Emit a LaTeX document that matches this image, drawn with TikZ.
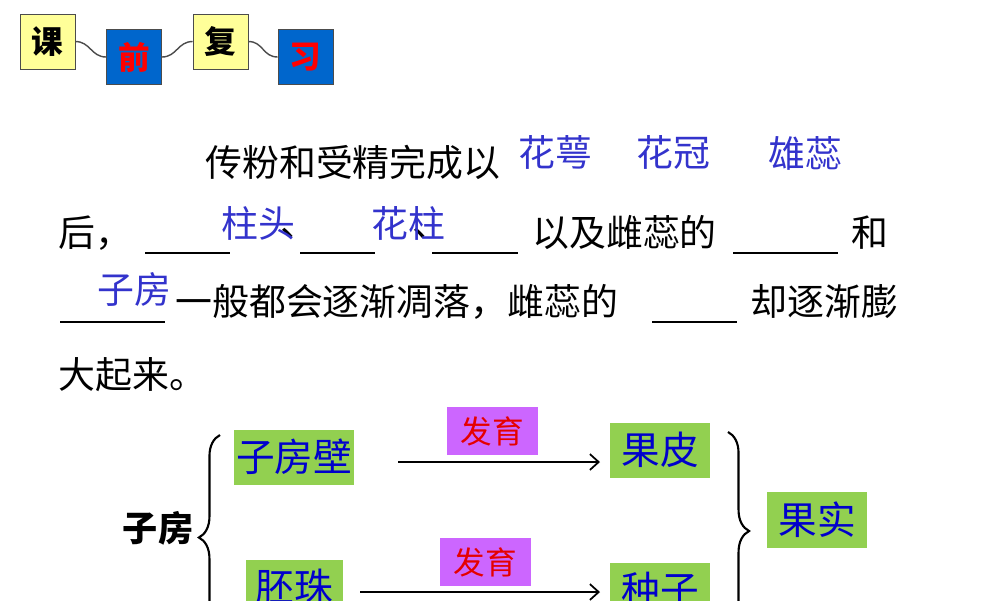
\documentclass[tikz,border=0pt]{standalone}
\usepackage{fontspec}
\setmainfont{Noto Sans CJK SC}
\usetikzlibrary{decorations.pathreplacing,arrows.meta}
\definecolor{gbox}{HTML}{92D050}
\definecolor{mbox}{HTML}{CC66FF}
\definecolor{ybox}{HTML}{FFFF99}
\definecolor{bbox}{HTML}{0066CC}
\definecolor{ans}{HTML}{3333CC}
\begin{document}
\begin{tikzpicture}[x=0.02cm,y=-0.02cm,
 body/.style={anchor=west,inner sep=0,font=\fontsize{21pt}{21pt}\selectfont},
 answer/.style={anchor=west,inner sep=0,text=ans,font=\fontsize{21pt}{21pt}\selectfont},
 blank/.style={line width=0.7pt},
 tile/.style={draw=black!70,minimum width=1.1cm,minimum height=1.1cm,inner sep=0,font=\bfseries\fontsize{18pt}{18pt}\selectfont},
 gbx/.style={fill=gbox,text=blue!80!black,inner sep=0,font=\fontsize{22pt}{22pt}\selectfont},
 mbx/.style={fill=mbox,text=red!90!black,inner sep=0,minimum width=1.82cm,minimum height=0.96cm,font=\fontsize{18pt}{18pt}\selectfont},
 arr/.style={line width=1pt,-{Straight Barb[length=5pt,width=9pt]}}]
\useasboundingbox (0,0) rectangle (1000,600);
\clip (0,0) rectangle (1000,600);
% title tiles
\node[tile,fill=ybox] (t1) at (47.5,41.5) {课};
\node[tile,fill=bbox,text=red] (t2) at (134,57) {前};
\node[tile,fill=ybox] (t3) at (220.5,41.5) {复};
\node[tile,fill=bbox,text=red] (t4) at (305.5,57) {习};
\draw[thick,black!70] (t1.east) .. controls +(15,0) and +(-15,0) .. (t2.west);
\draw[thick,black!70] (t2.east) .. controls +(15,0) and +(-15,0) .. (t3.west);
\draw[thick,black!70] (t3.east) .. controls +(15,0) and +(-15,0) .. (t4.west);
% text lines
\node[body] (l1) at (205,162) {传粉和受精完成以};
\node[answer] (a1) at (518,152) {花萼};
\node[answer] (a2) at (636,152) {花冠};
\node[answer] (a3) at (768,153) {雄蕊};
\node[body] (l2a) at (58,233) {后，};
\draw[blank] (145,253) -- (230,253);
\node[body] (l2b) at (280,233) {、};
\draw[blank] (300,253) -- (375,253);
\node[body] (l2c) at (412,233) {、};
\draw[blank] (432,253) -- (518,253);
\node[answer] (a4) at (221,223) {柱头};
\node[answer] (a5) at (371,223) {花柱};
\node[body] (l2d) at (532,233) {以及雌蕊的};
\draw[blank] (733,253) -- (838,253);
\node[body] (l2e) at (851,233) {和};
\draw[blank] (60,322) -- (165,322);
\node[answer] (a6) at (97,289) {子房};
\node[body] (l3a) at (175,302) {一般都会逐渐凋落，雌蕊的};
\draw[blank] (652,322) -- (737,322);
\node[body] (l3b) at (750,302) {却逐渐膨};
\node[body] (l4) at (58,375) {大起来。};
% diagram
\node[font=\bfseries\fontsize{20pt}{20pt}\selectfont] (zf) at (158,528) {子房};
\draw[decorate,decoration={brace,amplitude=12pt},line width=1.2pt] (220,640) -- (220,435);
\draw[decorate,decoration={brace,amplitude=12pt},line width=1.2pt] (728,432) -- (728,630);
\node[gbx,minimum width=2.4cm,minimum height=1.1cm] (zfb) at (294,457) {子房壁};
\node[gbx,minimum width=2cm,minimum height=1.1cm] (gp) at (660,450) {果皮};
\node[gbx,minimum width=2cm,minimum height=1.12cm] (gs) at (817,520) {果实};
\node[gbx,minimum width=1.94cm,minimum height=1.1cm] (pz) at (294.5,587) {胚珠};
\node[gbx,minimum width=2cm,minimum height=1.1cm] (zz) at (660,590) {种子};
\node[mbx] (f1) at (492.5,431) {发育};
\node[mbx] (f2) at (485.5,562) {发育};
\draw[arr] (398,462) -- (600,462);
\draw[arr] (360,592) -- (600,592);
\end{tikzpicture}
\end{document}
